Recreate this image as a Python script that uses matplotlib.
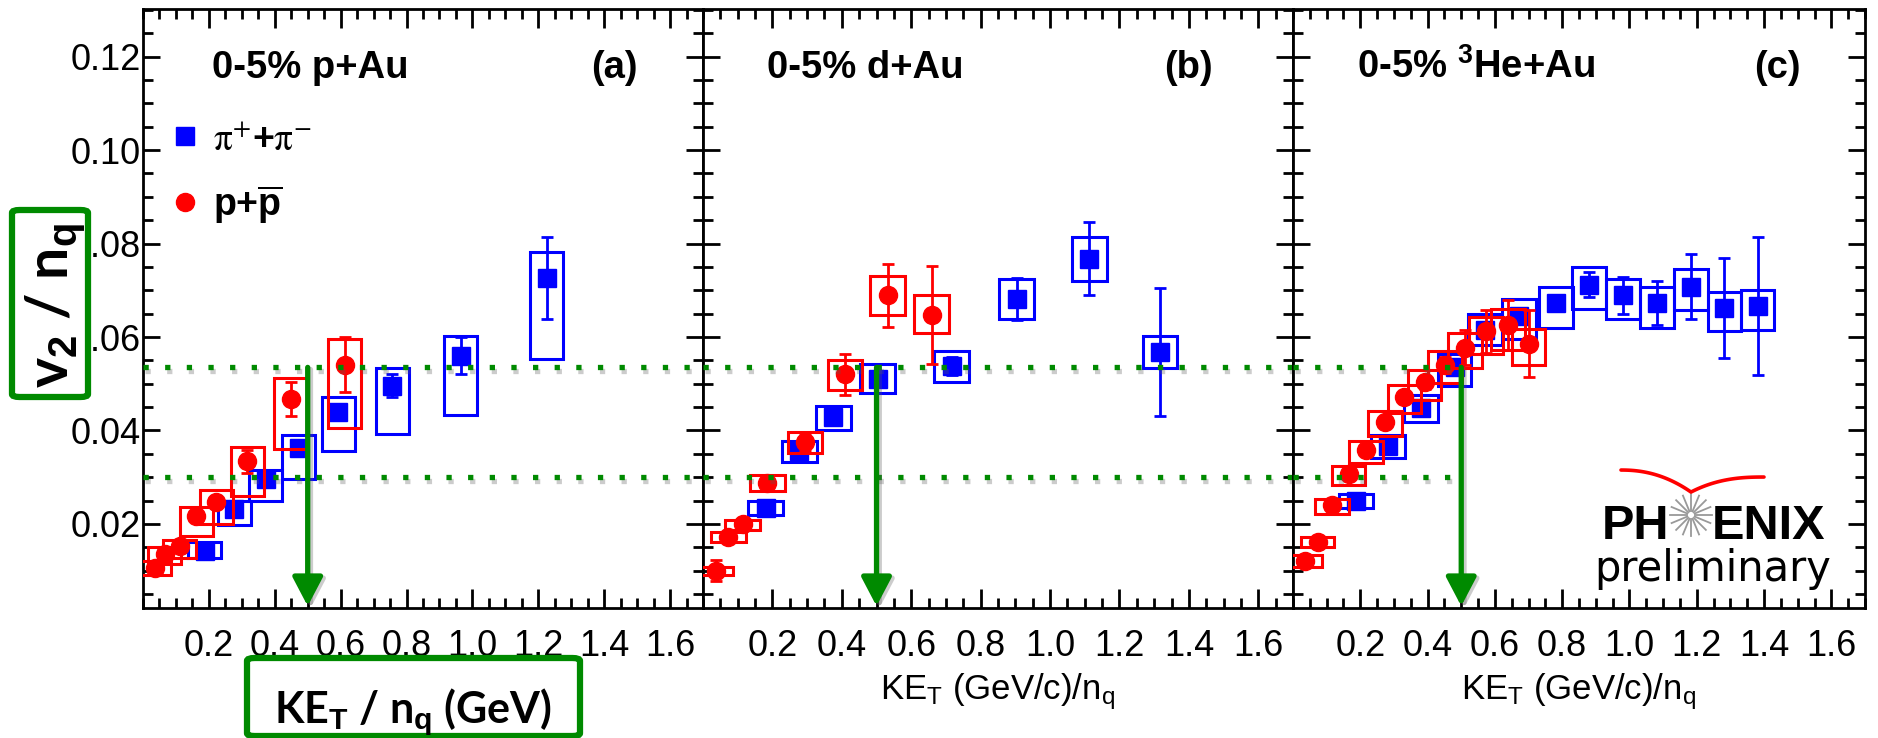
import numpy as np
import matplotlib
matplotlib.use("Agg")
import matplotlib.pyplot as plt
import matplotlib.patheffects as pe
import matplotlib.transforms as mtransforms
from matplotlib.lines import Line2D
from matplotlib.patches import FancyBboxPatch
from matplotlib.ticker import FixedLocator, MultipleLocator, FormatStrFormatter

plt.rcParams["font.family"] = ["Liberation Sans", "DejaVu Sans"]
plt.rcParams["mathtext.fontset"] = "custom"
plt.rcParams["mathtext.rm"] = "Liberation Sans"
plt.rcParams["mathtext.it"] = "Liberation Sans:italic"
plt.rcParams["mathtext.bf"] = "Liberation Sans:bold"

# v2/nq vs KE_T/nq, 0-5% central p+Au, d+Au, 3He+Au
# pions: ket, v2, stat err, sys box low/high
PAU_PI_KET = [0.187, 0.277, 0.373, 0.473, 0.593, 0.757, 0.965, 1.226]
PAU_PI_V2 = [0.0143, 0.0232, 0.0296, 0.0362, 0.0440, 0.0496, 0.0560, 0.0726]
PAU_PI_STAT = [0.0008, 0.0008, 0.0009, 0.0010, 0.0012, 0.0024, 0.0040, 0.0088]
PAU_PI_SYS_LO = [0.0128, 0.0198, 0.0249, 0.0296, 0.0357, 0.0392, 0.0434, 0.0553]
PAU_PI_SYS_HI = [0.0162, 0.0249, 0.0315, 0.0390, 0.0472, 0.0533, 0.0602, 0.0781]

PAU_P_KET = [0.036, 0.066, 0.111, 0.162, 0.223, 0.317, 0.448, 0.613]
PAU_P_V2 = [0.0106, 0.0136, 0.0153, 0.0217, 0.0247, 0.0334, 0.0467, 0.0541]
PAU_P_STAT = [0.0006, 0.0007, 0.0008, 0.0010, 0.0012, 0.0025, 0.0036, 0.0058]
PAU_P_SYS_LO = [0.0090, 0.0115, 0.0128, 0.0174, 0.0200, 0.0260, 0.0360, 0.0406]
PAU_P_SYS_HI = [0.0120, 0.0150, 0.0166, 0.0236, 0.0272, 0.0364, 0.0513, 0.0596]

DAU_PI_KET = [0.181, 0.278, 0.376, 0.503, 0.717, 0.904, 1.113, 1.317]
DAU_PI_V2 = [0.0235, 0.0357, 0.0428, 0.0511, 0.0538, 0.0681, 0.0768, 0.0567]
DAU_PI_STAT = [0.0006, 0.0008, 0.0010, 0.0012, 0.0019, 0.0045, 0.0078, 0.0137]
DAU_PI_SYS_LO = [0.0219, 0.0333, 0.0401, 0.0481, 0.0503, 0.0639, 0.0720, 0.0534]
DAU_PI_SYS_HI = [0.0250, 0.0377, 0.0453, 0.0542, 0.0570, 0.0724, 0.0815, 0.0602]

DAU_P_KET = [0.0375, 0.073, 0.114, 0.185, 0.294, 0.409, 0.532, 0.659]
DAU_P_V2 = [0.0100, 0.0172, 0.0199, 0.0288, 0.0375, 0.0520, 0.0689, 0.0648]
DAU_P_STAT = [0.0023, 0.0008, 0.0009, 0.0012, 0.0020, 0.0044, 0.0068, 0.0105]
DAU_P_SYS_LO = [0.0091, 0.0162, 0.0187, 0.0270, 0.0352, 0.0487, 0.0647, 0.0609]
DAU_P_SYS_HI = [0.0107, 0.0182, 0.0209, 0.0304, 0.0396, 0.0550, 0.0730, 0.0689]

HEAU_PI_KET = [0.1875, 0.282, 0.381, 0.480, 0.571, 0.672, 0.781, 0.880, 0.981, 1.082, 1.182, 1.282, 1.381]
HEAU_PI_V2 = [0.0250, 0.0367, 0.0449, 0.0535, 0.0616, 0.0645, 0.0672, 0.0712, 0.0689, 0.0672, 0.0708, 0.0662, 0.0666]
HEAU_PI_STAT = [0.0005, 0.0007, 0.0008, 0.0009, 0.0010, 0.0012, 0.0015, 0.0027, 0.0039, 0.0047, 0.0070, 0.0107, 0.0147]
HEAU_PI_SYS_LO = [0.0235, 0.0341, 0.0418, 0.0496, 0.0582, 0.0595, 0.0620, 0.0660, 0.0638, 0.0620, 0.0657, 0.0613, 0.0614]
HEAU_PI_SYS_HI = [0.0264, 0.0391, 0.0476, 0.0564, 0.0650, 0.0682, 0.0708, 0.0749, 0.0724, 0.0708, 0.0745, 0.0696, 0.0700]

HEAU_P_KET = [0.036, 0.073, 0.116, 0.165, 0.217, 0.274, 0.331, 0.391, 0.452, 0.512, 0.574, 0.639, 0.700]
HEAU_P_V2 = [0.0121, 0.0162, 0.0240, 0.0306, 0.0359, 0.0418, 0.0471, 0.0503, 0.0540, 0.0577, 0.0612, 0.0626, 0.0586]
HEAU_P_STAT = [0.0005, 0.0006, 0.0007, 0.0008, 0.0009, 0.0010, 0.0012, 0.0014, 0.0018, 0.0037, 0.0046, 0.0054, 0.0072]
HEAU_P_SYS_LO = [0.0108, 0.0150, 0.0222, 0.0284, 0.0330, 0.0389, 0.0437, 0.0465, 0.0501, 0.0534, 0.0564, 0.0572, 0.0541]
HEAU_P_SYS_HI = [0.0134, 0.0172, 0.0254, 0.0323, 0.0378, 0.0442, 0.0497, 0.0529, 0.0570, 0.0608, 0.0643, 0.0660, 0.0618]

# guide lines
V2_HI = 0.0535
V2_LO = 0.030
KET_CUT = 0.5

SYSTEMS = ["0-5% p+Au", "0-5% d+Au", r"0-5% $^{\mathbf{3}}$He+Au"]
TAGS = ["(a)", "(b)", "(c)"]
SPECIES = [r"$\mathrm{\pi}^{+}$+$\mathrm{\pi}^{-}$", r"p+$\overline{\mathbf{p}}$"]
KET_TICKS = [0.2, 0.4, 0.6, 0.8, 1.0, 1.2, 1.4, 1.6]
X_RANGE = (0.0, 1.7)
Y_RANGE = (0.002, 0.1302)

BLUE = "#0000ff"
RED = "#ff0000"
GREEN = "#008a00"
BOX_HALF = 0.05

W, H = 1878, 738
fig = plt.figure(figsize=(W / 100, H / 100), dpi=100)

# pad frames in pixels (left, right), shared top/bottom
FRAMES = [(143, 703), (703, 1293), (1293, 1865)]
TOP, BOT = 9, 608


def draw_series(ax, ket, v2, stat, lo, hi, color, marker, z):
    lo = np.asarray(lo)
    hi = np.asarray(hi)
    ax.bar(ket, hi - lo, bottom=lo, width=2 * BOX_HALF, fill=False,
           edgecolor=color, linewidth=2.2, zorder=z)
    ax.errorbar(ket, v2, yerr=stat, fmt=marker, color=color, mec=color,
                ms=13, elinewidth=2, capsize=4, capthick=2, zorder=z + 0.5)


def shadow(offset=(1.5, -2.5)):
    return [pe.SimpleLineShadow(offset=offset, shadow_color="0.35", alpha=0.3),
            pe.Normal()]


def draw_logo(ax):
    bb = ax.get_position()
    pw, ph = bb.width * W, bb.height * H
    tr = ax.transAxes
    cx, cy = 0.6958, 0.1552

    def px(dx, dy):
        return cx + dx / pw, cy + dy / ph

    ax.text(*px(-22, -24), "PH", transform=tr, ha="right", va="baseline",
            fontsize=35, fontweight="bold", zorder=8)
    ax.text(*px(21, -24), "ENIX", transform=tr, ha="left", va="baseline",
            fontsize=35, fontweight="bold", zorder=8)
    ax.text(*px(22, -66), "preliminary", transform=tr, ha="center",
            va="baseline", fontsize=30, family="DejaVu Sans", zorder=8)
    for a in np.linspace(0, 2 * np.pi, 16, endpoint=False):
        x0, y0 = px(4 * np.cos(a), 4 * np.sin(a))
        x1, y1 = px(21 * np.cos(a), 21 * np.sin(a))
        ax.plot([x0, x1], [y0, y1], transform=tr, color="0.6", lw=1.3, zorder=8)
    u = np.linspace(0, 1, 40)
    lx = -70 + 70 * u
    ly = 45 - 22 * u ** 2.2
    rx = 73 * u
    ry = 23 + 15 * (1 - (1 - u) ** 2.5)
    sx, sy = px(np.r_[lx, rx], np.r_[ly, ry])
    ax.plot(sx, sy, transform=tr, color=RED, lw=2.6, solid_capstyle="round", zorder=8)


panels = [
    (PAU_PI_KET, PAU_PI_V2, PAU_PI_STAT, PAU_PI_SYS_LO, PAU_PI_SYS_HI,
     PAU_P_KET, PAU_P_V2, PAU_P_STAT, PAU_P_SYS_LO, PAU_P_SYS_HI),
    (DAU_PI_KET, DAU_PI_V2, DAU_PI_STAT, DAU_PI_SYS_LO, DAU_PI_SYS_HI,
     DAU_P_KET, DAU_P_V2, DAU_P_STAT, DAU_P_SYS_LO, DAU_P_SYS_HI),
    (HEAU_PI_KET, HEAU_PI_V2, HEAU_PI_STAT, HEAU_PI_SYS_LO, HEAU_PI_SYS_HI,
     HEAU_P_KET, HEAU_P_V2, HEAU_P_STAT, HEAU_P_SYS_LO, HEAU_P_SYS_HI),
]
sys_x = [0.21, 0.185, 0.19]
tag_x = [1.36, 1.33, 1.37]

axes = []
for i, ((x0, x1), data) in enumerate(zip(FRAMES, panels)):
    ax = fig.add_axes([x0 / W, 1 - BOT / H, (x1 - x0) / W, (BOT - TOP) / H])
    axes.append(ax)
    ax.set_xlim(*X_RANGE)
    ax.set_ylim(*Y_RANGE)

    ax.xaxis.set_major_locator(FixedLocator(KET_TICKS))
    ax.xaxis.set_minor_locator(MultipleLocator(0.05))
    ax.xaxis.set_major_formatter(FormatStrFormatter("%.1f"))
    ax.yaxis.set_major_locator(MultipleLocator(0.02))
    ax.yaxis.set_minor_locator(MultipleLocator(0.005))
    ax.yaxis.set_major_formatter(FormatStrFormatter("%.2f"))
    ax.tick_params(which="both", direction="in", top=True, right=True,
                   width=2, labelsize=26, colors="black")
    ax.tick_params(axis="x", which="major", length=14, pad=15)
    ax.tick_params(axis="y", which="major", length=12, pad=1.5)
    ax.tick_params(which="minor", length=7.5)
    if i > 0:
        ax.tick_params(axis="y", labelleft=False)
    for s in ax.spines.values():
        s.set_linewidth(2)

    (pk, pv, ps, plo, phi, rk, rv, rs, rlo, rhi) = data
    draw_series(ax, pk, pv, ps, plo, phi, BLUE, "s", 3)
    draw_series(ax, rk, rv, rs, rlo, rhi, RED, "o", 4)

    # v2 levels and the KE_T/nq cut
    x_end = X_RANGE[1] if i < 2 else KET_CUT
    for lvl in (V2_HI, V2_LO):
        ax.plot([X_RANGE[0], x_end], [lvl, lvl], color=GREEN, lw=3.8,
                linestyle=(0, (1, 3.1)), zorder=6, path_effects=shadow())
    ann = ax.annotate("", xy=(KET_CUT, Y_RANGE[0] + 0.0004), xytext=(KET_CUT, V2_HI),
                      arrowprops=dict(arrowstyle="-|>,head_length=0.8,head_width=0.42",
                                      mutation_scale=22, color=GREEN, lw=3.8,
                                      shrinkA=0, shrinkB=0), zorder=7)
    ann.arrow_patch.set_path_effects(shadow((2, -1.5)))

    ax.text(sys_x[i], 0.1155, SYSTEMS[i], fontsize=27.5, fontweight="bold",
            ha="left", va="baseline", zorder=8)
    ax.text(tag_x[i], 0.1155, TAGS[i], fontsize=27.5, fontweight="bold",
            ha="left", va="baseline", zorder=8)

    if i > 0:
        ax.text(0.85, -0.152, r"KE$_{\mathrm{T}}$ (GeV/c)/n$_{\mathrm{q}}$",
                transform=mtransforms.blended_transform_factory(ax.transData, ax.transAxes),
                ha="center", va="baseline", fontsize=25)

# species legend in panel (a)
handles = [Line2D([], [], marker="s", ls="none", color=BLUE, ms=13),
           Line2D([], [], marker="o", ls="none", color=RED, ms=13)]
leg = axes[0].legend(handles, SPECIES, loc="upper left", bbox_to_anchor=(0.042, 0.812),
                     frameon=False, prop={"size": 27, "weight": "bold"},
                     handlelength=1.0, handletextpad=0.25,
                     borderaxespad=0, borderpad=0, labelspacing=0.68)
leg.get_texts()[0].set_math_fontfamily("stix")

draw_logo(axes[2])


# green call-out boxes for the axis titles
def green_box(x0, y0, x1, y1):
    box = FancyBboxPatch((x0 / W, 1 - y1 / H), (x1 - x0) / W, (y1 - y0) / H,
                         boxstyle="round,pad=0,rounding_size=0.004",
                         transform=fig.transFigure, facecolor="white",
                         edgecolor=GREEN, linewidth=4.5, zorder=10)
    fig.patches.append(box)


green_box(12, 210, 88, 397)
fig.text(55 / W, 1 - 306 / H, r"v$_\mathbf{2}$ / n$_\mathbf{q}$", rotation=90,
         ha="center", va="center", fontsize=41, fontweight="bold",
         family="Lato", zorder=11)

green_box(247, 658, 580, 736)
fig.text(413 / W, 1 - 723 / H, r"KE$_\mathbf{T}$ / n$_\mathbf{q}$ (GeV)",
         ha="center", va="baseline", fontsize=31, fontweight="bold",
         family="Lato", zorder=11)

fig.savefig("out.png", dpi=100)
